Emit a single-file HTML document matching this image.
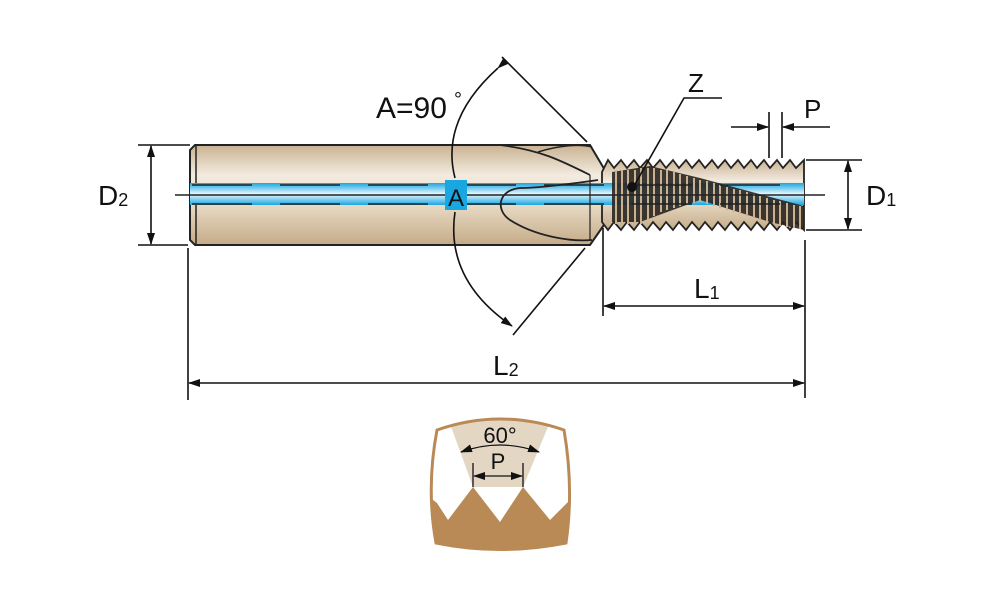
<!DOCTYPE html>
<html><head><meta charset="utf-8"><style>
html,body{margin:0;padding:0;background:#fff;}
svg{display:block;}
text{font-family:"Liberation Sans",sans-serif;fill:#111;}
</style></head><body>
<svg width="1000" height="611" viewBox="0 0 1000 611" xmlns="http://www.w3.org/2000/svg">
<defs>
<linearGradient id="tan" x1="0" y1="0" x2="0" y2="1">
<stop offset="0" stop-color="#c9b291"/><stop offset="0.3" stop-color="#f3ebe0"/><stop offset="0.6" stop-color="#e8dac4"/><stop offset="1" stop-color="#c4ab88"/>
</linearGradient>
<linearGradient id="blue" x1="0" y1="0" x2="0" y2="1">
<stop offset="0" stop-color="#1aa6e0"/><stop offset="0.5" stop-color="#e6f7ff"/><stop offset="1" stop-color="#1aa6e0"/>
</linearGradient>
<marker id="ar" markerWidth="12" markerHeight="8" refX="11" refY="4" orient="auto" markerUnits="userSpaceOnUse">
<path d="M0,0 L12,4 L0,8 z" fill="#111"/></marker>
<marker id="al" markerWidth="12" markerHeight="8" refX="1" refY="4" orient="auto" markerUnits="userSpaceOnUse">
<path d="M12,0 L0,4 L12,8 z" fill="#111"/></marker>
</defs>

<!-- shank -->
<path d="M195,145 L590,145 L606,172 L606,222 L590,245 L195,245 L190,240 L190,150 Z" fill="url(#tan)" stroke="#222" stroke-width="2"/>
<line x1="196" y1="146" x2="196" y2="244" stroke="#222" stroke-width="1.5"/>
<path d="M500,145 C540,150 560,160 590,175" fill="none" stroke="#222" stroke-width="1.8"/>
<path d="M538,152 C560,145 580,144 592,147" fill="none" stroke="#222" stroke-width="1.5"/>
<!-- threads -->
<path d="M602,172 L608,160 L614,168 L621,160 L627,168 L634,160 L640,168 L647,160 L653,168 L660,160 L666,168 L673,160 L679,168 L686,160 L692,168 L699,160 L705,168 L712,160 L718,168 L725,160 L731,168 L738,160 L744,168 L751,160 L757,168 L764,160 L770,168 L777,160 L783,168 L790,160 L796,168 L804,160 L804,230 L796,222 L790,230 L783,222 L777,230 L770,222 L764,230 L757,222 L751,230 L744,222 L738,230 L731,222 L725,230 L718,222 L712,230 L705,222 L699,230 L692,222 L686,230 L679,222 L673,230 L666,222 L660,230 L653,222 L647,230 L640,222 L634,230 L627,222 L621,230 L614,222 L608,230 L602,222 Z" fill="url(#tan)" stroke="#222" stroke-width="1.8"/>
<rect x="190" y="183" width="614" height="22" fill="url(#blue)"/>
<path d="M612,172 L650,166 L700,178 L804,206 L804,230 L770,222 L700,200 L640,222 L612,222 Z" fill="#2a2520" opacity="0.9"/>
<g stroke="#c9b291" stroke-width="2">
<line x1="616" y1="170" x2="616" y2="224"/><line x1="622" y1="170" x2="622" y2="224"/><line x1="628" y1="170" x2="628" y2="224"/><line x1="635" y1="170" x2="635" y2="224"/><line x1="641" y1="168" x2="641" y2="224"/><line x1="648" y1="168" x2="648" y2="220"/><line x1="654" y1="168" x2="654" y2="216"/><line x1="661" y1="170" x2="661" y2="212"/><line x1="667" y1="170" x2="667" y2="210"/><line x1="674" y1="172" x2="674" y2="208"/><line x1="680" y1="174" x2="680" y2="206"/><line x1="687" y1="176" x2="687" y2="204"/><line x1="694" y1="178" x2="694" y2="203"/><line x1="700" y1="180" x2="700" y2="202"/><line x1="707" y1="181" x2="707" y2="204"/><line x1="714" y1="183" x2="714" y2="206"/><line x1="720" y1="185" x2="720" y2="208"/><line x1="727" y1="187" x2="727" y2="210"/><line x1="734" y1="189" x2="734" y2="212"/><line x1="740" y1="190" x2="740" y2="214"/><line x1="747" y1="192" x2="747" y2="216"/><line x1="754" y1="194" x2="754" y2="218"/><line x1="760" y1="196" x2="760" y2="220"/><line x1="767" y1="198" x2="767" y2="222"/><line x1="774" y1="200" x2="774" y2="224"/><line x1="780" y1="201" x2="780" y2="226"/><line x1="787" y1="203" x2="787" y2="227"/><line x1="794" y1="205" x2="794" y2="228"/><line x1="800" y1="206" x2="800" y2="229"/>
</g>
<g stroke="#222" stroke-width="1.6">
<line x1="192" y1="185" x2="804" y2="185" stroke-dasharray="60,28"/>
<line x1="192" y1="204" x2="804" y2="204" stroke-dasharray="60,28"/>
<line x1="175" y1="195" x2="825" y2="195"/>
</g>
<path d="M598,180 C570,184 540,188 520,188 C498,190 495,210 510,220 C535,236 570,242 592,240" fill="none" stroke="#222" stroke-width="1.8"/>
<line x1="590" y1="175" x2="590" y2="240" stroke="#222" stroke-width="1.2"/>
<rect x="445" y="180" width="22" height="30" fill="#1aa6e0"/>
<text x="456" y="206" font-size="24" text-anchor="middle">A</text>

<g stroke="#111" stroke-width="1.6" fill="none">
<line x1="502" y1="57" x2="587" y2="142"/>
<line x1="585" y1="248" x2="513" y2="335"/>
<path d="M498,68 Q440,120 455,178" marker-start="url(#ar)"/>
<path d="M455,212 Q445,280 512,326" marker-end="url(#ar)"/>
</g>
<text x="376" y="118" font-size="30">A=90</text>
<text x="454" y="106" font-size="20">°</text>

<text x="688" y="92" font-size="26">Z</text>
<polyline points="722,98 684,98 634,186" fill="none" stroke="#111" stroke-width="1.6"/>
<circle cx="632" cy="187" r="5" fill="#111"/>

<g stroke="#111" stroke-width="1.6">
<line x1="769" y1="112" x2="769" y2="158"/><line x1="782" y1="112" x2="782" y2="158"/>
<line x1="731" y1="127" x2="768" y2="127" marker-end="url(#ar)"/>
<line x1="830" y1="127" x2="783" y2="127" marker-end="url(#ar)"/>
</g>
<text x="804" y="118" font-size="26">P</text>

<g stroke="#111" stroke-width="1.6">
<line x1="138" y1="145" x2="190" y2="145"/><line x1="138" y1="245" x2="188" y2="245"/>
<line x1="151" y1="146" x2="151" y2="244" marker-start="url(#al)" marker-end="url(#ar)"/>
</g>
<text x="98" y="205" font-size="28">D<tspan font-size="18" dy="1">2</tspan></text>

<g stroke="#111" stroke-width="1.6">
<line x1="806" y1="160" x2="862" y2="160"/><line x1="806" y1="230" x2="862" y2="230"/>
<line x1="848" y1="161" x2="848" y2="229" marker-start="url(#al)" marker-end="url(#ar)"/>
</g>
<text x="866" y="205" font-size="28">D<tspan font-size="18" dy="1">1</tspan></text>

<g stroke="#111" stroke-width="1.6">
<line x1="603" y1="228" x2="603" y2="316"/>
<line x1="805" y1="240" x2="805" y2="398"/>
<line x1="188" y1="248" x2="188" y2="400"/>
<line x1="604" y1="306" x2="804" y2="306" marker-start="url(#al)" marker-end="url(#ar)"/>
<line x1="189" y1="383" x2="804" y2="383" marker-start="url(#al)" marker-end="url(#ar)"/>
</g>
<text x="694" y="298" font-size="28">L<tspan font-size="18" dy="1">1</tspan></text>
<text x="493" y="375" font-size="28">L<tspan font-size="18" dy="1">2</tspan></text>

<!-- thread profile -->
<clipPath id="cp"><path d="M437,430 Q500,408 564,430 Q574,488 566,543 Q500,556 436,543 Q426,488 437,430 Z"/></clipPath>
<g clip-path="url(#cp)">
<rect x="420" y="405" width="160" height="160" fill="#fff"/>
<path d="M445,410 L555,410 L523,487 L473,487 Z" fill="#e3d7c4"/>
<path d="M420,490 L437,503 L448,520 L473,487 L500,522 L523,487 L550,520 L580,490 L580,565 L420,565 Z" fill="#b98a55"/>
</g>
<path d="M437,430 Q500,408 564,430 Q574,488 566,543 Q500,556 436,543 Q426,488 437,430 Z" fill="none" stroke="#b98a55" stroke-width="3"/>
<text x="500" y="443" font-size="22" text-anchor="middle">60°</text>
<path d="M461,452 Q500,438 539,452" fill="none" stroke="#111" stroke-width="1.2" marker-start="url(#al)" marker-end="url(#ar)"/>
<g stroke="#111" stroke-width="1.3">
<line x1="473" y1="463" x2="473" y2="487"/><line x1="523" y1="463" x2="523" y2="487"/>
<line x1="474" y1="476" x2="522" y2="476" marker-start="url(#al)" marker-end="url(#ar)"/>
</g>
<text x="498" y="469" font-size="22" text-anchor="middle">P</text>
</svg>
</body></html>
